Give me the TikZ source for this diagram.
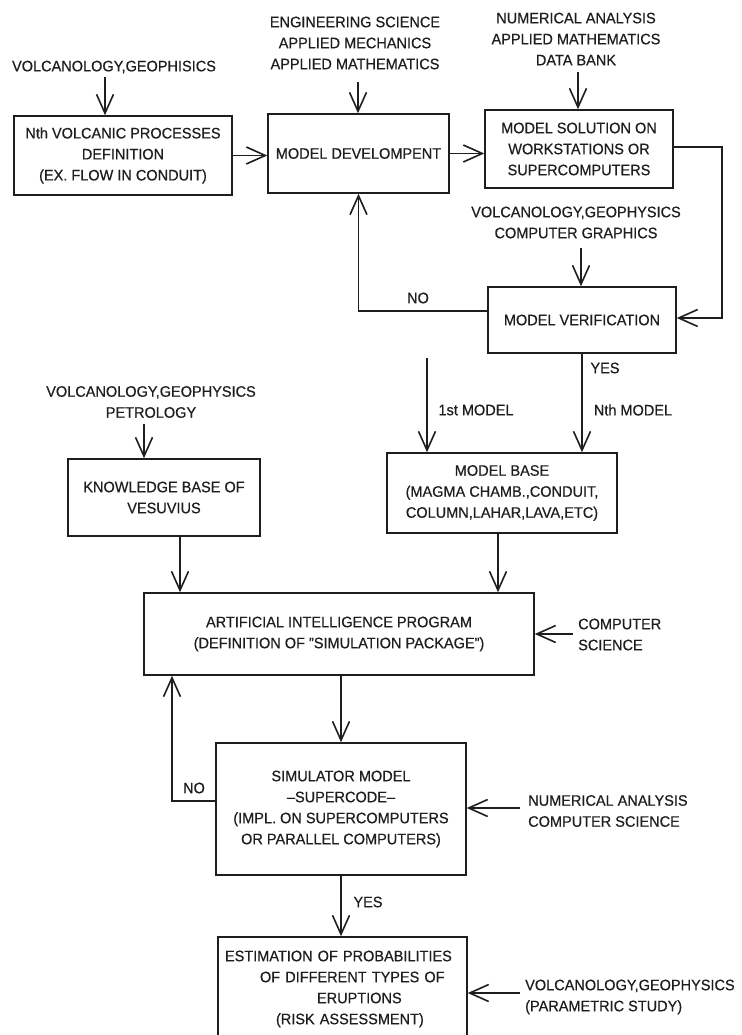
\documentclass[tikz,border=0pt]{standalone}
\usepackage{fontspec}
\setmainfont{Liberation Sans}[FakeStretch=0.955,FakeBold=0.5]
\usetikzlibrary{arrows.meta,calc}
\definecolor{ink}{HTML}{1E1E1E}
\begin{document}
\begin{tikzpicture}[x=1pt,y=-1pt,
  every node/.style={font=\fontsize{15.2}{21}\selectfont, text=ink},
  box/.style={draw=ink, line width=1.5pt, inner sep=0pt, align=center},
  lbl/.style={inner sep=0pt, align=center},
  arr/.style={draw=ink, line width=1.4pt, -{Straight Barb[length=19pt,width=17pt,line width=1.6pt]}}]
\fill[white] (0,0) rectangle (741,1035);
\clip (0,0) rectangle (741,1035);

% boxes
\node[box, minimum width=218pt, minimum height=79pt] (b1) at (123,155.5)
  {Nth VOLCANIC PROCESSES\\DEFINITION\\(EX. FLOW IN CONDUIT)};
\node[box, minimum width=181pt, minimum height=79pt] (b2) at (358.5,153.5)
  {MODEL DEVELOMPENT};
\node[box, minimum width=188pt, minimum height=78pt] (b3) at (579,149)
  {MODEL SOLUTION ON\\WORKSTATIONS OR\\SUPERCOMPUTERS};
\node[box, minimum width=188pt, minimum height=66pt] (mv) at (582,320)
  {MODEL VERIFICATION};
\node[box, minimum width=192pt, minimum height=77pt] (kb) at (164,497.5)
  {KNOWLEDGE BASE OF\\VESUVIUS};
\node[box, minimum width=230pt, minimum height=80pt] (mb) at (502,493)
  {MODEL BASE\\(MAGMA CHAMB.,CONDUIT,\\COLUMN,LAHAR,LAVA,ETC)};
\node[box, minimum width=390pt, minimum height=82pt] (ai) at (339,634)
  {ARTIFICIAL INTELLIGENCE PROGRAM\\(DEFINITION OF "SIMULATION PACKAGE")};
\node[box, minimum width=250pt, minimum height=132pt] (sim) at (341,809)
  {SIMULATOR MODEL\\--SUPERCODE--\\(IMPL. ON SUPERCOMPUTERS\\OR PARALLEL COMPUTERS)};
\node[box, text width=235pt, inner xsep=7pt, minimum height=104pt, align=left] (est) at (342.5,989)
  {ESTIMATION OF PROBABILITIES\\\hspace*{35pt}OF DIFFERENT TYPES OF\\\hspace*{92pt}ERUPTIONS\\\hspace*{51pt}(RISK ASSESSMENT)};

% labels
\node[lbl] (l1) at (114,67) {VOLCANOLOGY,GEOPHISICS};
\node[lbl] (l2) at (355,43) {ENGINEERING SCIENCE\\APPLIED MECHANICS\\APPLIED MATHEMATICS};
\node[lbl] (l3) at (576,39) {NUMERICAL ANALYSIS\\APPLIED MATHEMATICS\\DATA BANK};
\node[lbl] (l4) at (576,222.5) {VOLCANOLOGY,GEOPHYSICS\\COMPUTER GRAPHICS};
\node[lbl] (l5) at (151,402) {VOLCANOLOGY,GEOPHYSICS\\PETROLOGY};
\node[lbl] (no1) at (418,298) {NO};
\node[lbl] (yes1) at (605,368) {YES};
\node[lbl] (nth) at (633,410) {Nth MODEL};
\node[lbl] (first) at (476,410) {1st MODEL};
\node[lbl, align=left, anchor=west] (cs) at (578,634.5) {COMPUTER\\SCIENCE};
\node[lbl] (no2) at (194,788) {NO};
\node[lbl, align=left, anchor=west] (na) at (528,811) {NUMERICAL ANALYSIS\\COMPUTER SCIENCE};
\node[lbl] (yes2) at (368,902) {YES};
\node[lbl, align=left, anchor=west] (vp) at (525,997) {VOLCANOLOGY,GEOPHYSICS\\(PARAMETRIC STUDY)};

% free ends / bends
\coordinate (s1) at (105,77);
\coordinate (s2) at (358,82);
\coordinate (s3) at (578,72);
\coordinate (s4) at (581,248);
\coordinate (s5) at (427,358);
\coordinate (s6) at (144,424);
\coordinate (s7) at (573,634);
\coordinate (s8) at (520,808);
\coordinate (s9) at (520,993);
\coordinate (rc) at (722,0);
\coordinate (nc) at (172,0);

% connectors
\draw[arr] (s1) -- (s1 |- b1.north);
\draw[arr] (s2) -- (s2 |- b2.north);
\draw[arr] (s3) -- (s3 |- b3.north);
\draw[arr] (b1.east) -- (b1.east -| b2.west);
\draw[arr] (b2.east) -- (b2.east -| b3.west);
\draw[arr] ([yshift=2pt]b3.east) -- ([yshift=2pt]b3.east -| rc) -- ([yshift=2pt]rc |- mv.east) -- ([yshift=2pt]mv.east);
\draw[arr] (s4) -- (s4 |- mv.north);
\draw[arr] ([yshift=9pt]mv.west) -- ([yshift=9pt]mv.west -| b2.south) -- (b2.south);
\draw[arr] (mv.south) -- (mv.south |- mb.north);
\draw[arr] (s5) -- (s5 |- mb.north);
\draw[arr] (s6) -- (s6 |- kb.north);
\draw[arr] ([xshift=16pt]kb.south) -- ([xshift=16pt]kb.south |- ai.north);
\draw[arr] ([xshift=-4pt]mb.south) -- ([xshift=-4pt]mb.south |- ai.north);
\draw[arr] (s7) -- (s7 -| ai.east);
\draw[arr] (sim.north |- ai.south) -- (sim.north);
\draw[arr] ([yshift=8pt]sim.west) -- ([yshift=8pt]sim.west -| nc) -- (nc |- ai.south);
\draw[arr] (s8) -- (s8 -| sim.east);
\draw[arr] (sim.south) -- (sim.south |- est.north);
\draw[arr] (s9) -- (s9 -| est.east);
\end{tikzpicture}
\end{document}
